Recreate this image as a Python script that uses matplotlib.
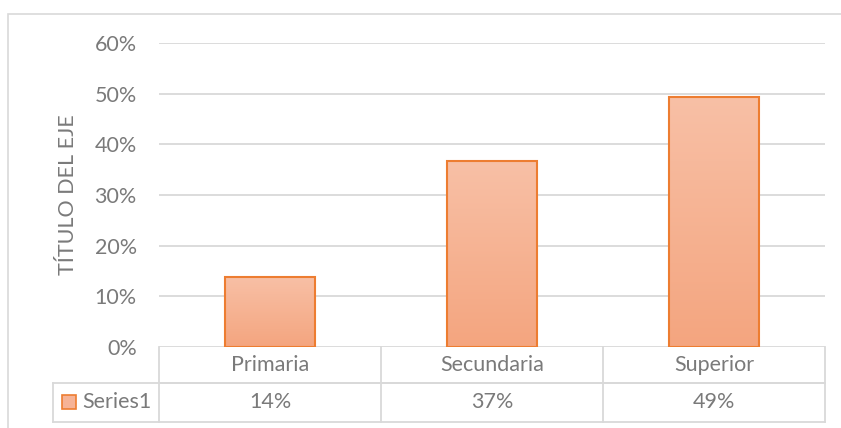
import numpy as np
import matplotlib.pyplot as plt
from matplotlib.patches import Rectangle
from matplotlib.colors import LinearSegmentedColormap

# data
categories = ['Primaria', 'Secundaria', 'Superior']
values = [0.139, 0.367, 0.494]
value_labels = ['14%', '37%', '49%']
series_name = 'Series1'
y_ticks = [0, 0.1, 0.2, 0.3, 0.4, 0.5, 0.6]
y_title = 'TÍTULO DEL EJE'

plt.rcParams['font.family'] = ['Lato', 'DejaVu Sans']
txt_col = '#7A7A7A'
grid_col = '#D9D9D9'
edge_col = '#ED7D31'
fs = 15.5
W, H = 841, 428

fig = plt.figure(figsize=(W / 100, H / 100), dpi=100)
# plot area in pixels: x 159..825, y 43..347
ax = fig.add_axes([159 / W, 1 - 347 / H, (825 - 159) / W, (347 - 43) / H])

# outer chart border (right/bottom fall outside the image)
fig.patches.append(Rectangle((8 / W, -0.05), 1.0, 1 - 14 / H + 0.05, transform=fig.transFigure,
                             fill=False, edgecolor=grid_col, linewidth=1.2))

ax.set_yticks(y_ticks)
ax.set_yticklabels(['%d%%' % round(t * 100) for t in y_ticks], color=txt_col, fontsize=fs)
ax.tick_params(axis='y', length=0, pad=16)
ax.set_xticks([])
ax.yaxis.grid(True, color=grid_col, linewidth=1.3)
ax.set_axisbelow(True)
for s in ax.spines.values():
    s.set_visible(False)
ax.set_ylabel(y_title, color=txt_col, fontsize=fs, labelpad=12)

# bars with vertical gradient
cmap = LinearSegmentedColormap.from_list('grad', ['#F4A57F', '#F8C0A6'])
grad = np.linspace(0, 1, 256).reshape(-1, 1)
bars = ax.bar(range(len(categories)), values, width=0.405, color='none', edgecolor=edge_col, linewidth=1.5, zorder=3)
for b in bars:
    x0, y0, w, h = b.get_x(), b.get_y(), b.get_width(), b.get_height()
    im = ax.imshow(grad, extent=[x0, x0 + w, y0, y0 + h], origin='lower', cmap=cmap, aspect='auto', zorder=2)
    im.set_clip_path(b)
ax.set_xlim(-0.5, len(categories) - 0.5)
ax.set_ylim(0, 0.6)

# data table below the axis
tr = ax.get_xaxis_transform()
axh = 347 - 43
r1 = -36 / axh
r2 = -74.7 / axh
leg_x = -0.5 - 106 / 222
n = len(categories)
lk = dict(color=grid_col, linewidth=1.3, transform=tr, clip_on=False)
ax.plot([-0.5, n - 0.5], [r1, r1], **lk)
ax.plot([leg_x, n - 0.5], [r1, r1], **lk)
ax.plot([leg_x, n - 0.5], [r2, r2], **lk)
ax.plot([leg_x, leg_x], [r1, r2], **lk)
for i in range(n + 1):
    ax.plot([i - 0.5, i - 0.5], [0, r2], **lk)
for i, c in enumerate(categories):
    ax.text(i, r1 / 2, c, transform=tr, ha='center', va='center', color=txt_col, fontsize=fs)
    ax.text(i, (r1 + r2) / 2, value_labels[i], transform=tr, ha='center', va='center', color=txt_col, fontsize=fs)

# legend key inside the table
kx = leg_x + 9 / 222
ax.add_patch(Rectangle((kx, (r1 + r2) / 2 - 7 / axh), 14 / 222, 14 / axh, transform=tr, clip_on=False,
                       facecolor='#F6B396', edgecolor=edge_col, linewidth=1.2))
ax.text(kx + 20 / 222, (r1 + r2) / 2, series_name, transform=tr, ha='left', va='center',
        color=txt_col, fontsize=fs)

fig.savefig('out.png', dpi=100)
